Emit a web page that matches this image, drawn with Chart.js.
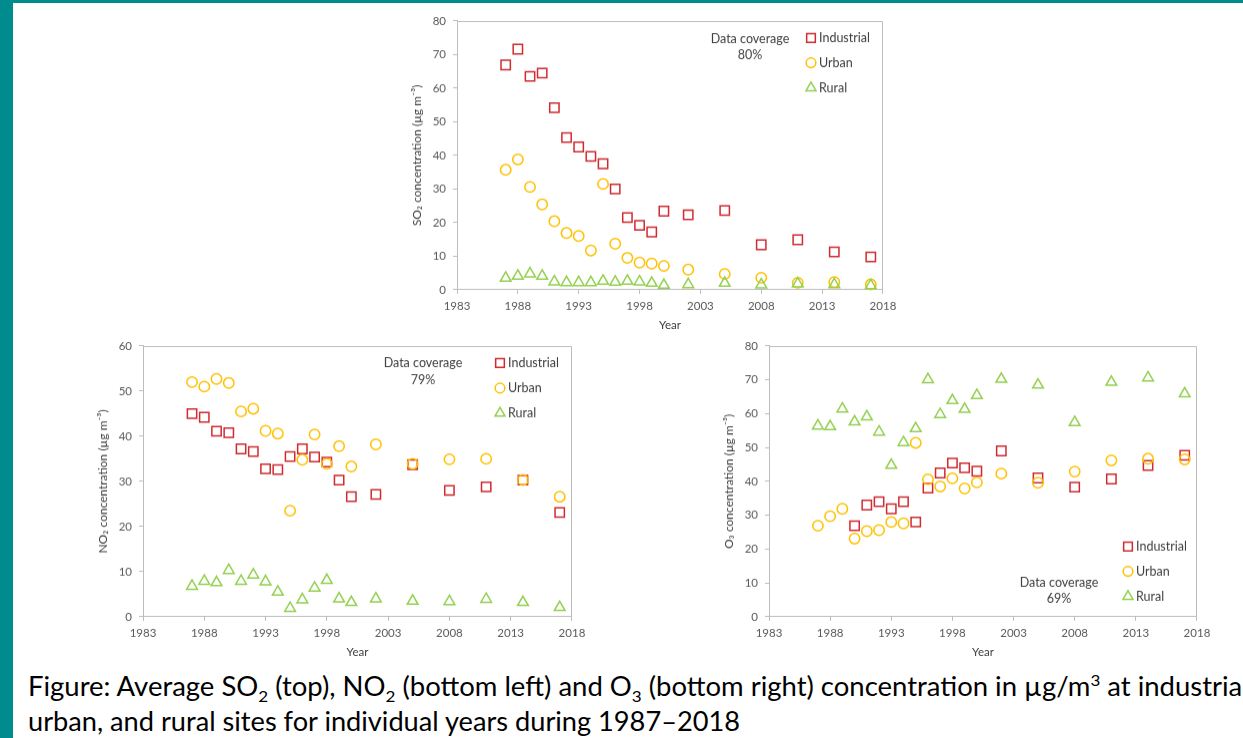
<!DOCTYPE html>
<html><head><meta charset="utf-8">
<script src="https://cdn.jsdelivr.net/npm/chart.js@4.4.1/dist/chart.umd.min.js"></script>
<style>
html,body{margin:0;padding:0;width:1243px;height:738px;overflow:hidden;background:#fff;}
#barLeft{position:absolute;left:0;top:0;width:13px;height:738px;background:#008B8E;}
#barTop{position:absolute;left:0;top:0;width:1243px;height:3px;background:#008B8E;}
canvas{position:absolute;}
.cap{position:absolute;left:28px;white-space:nowrap;font-family:Lato,sans-serif;color:#000;font-size:26px;line-height:30px;transform-origin:0 0;}
.cap sub,.cap sup{font-size:62%;line-height:0;}
</style></head>
<body>
<div id="barLeft"></div><div id="barTop"></div>
<canvas id="cSO2"></canvas>
<canvas id="cNO2"></canvas>
<canvas id="cO3"></canvas>
<div class="cap" id="cap1">Figure: Average SO<sub>2</sub> (top), NO<sub>2</sub> (bottom left) and O<sub>3</sub> (bottom right) concentration in µg/m<sup>3</sup> at industrial,</div>
<div class="cap" id="cap2">urban, and rural sites for individual years during 1987–2018</div>
<script>
// ---- data ----
const years = [1987,1988,1989,1990,1991,1992,1993,1994,1995,1996,1997,1998,1999,2000,2002,2005,2008,2011,2014,2017];
const xTicks = [1983,1988,1993,1998,2003,2008,2013,2018];
const seriesNames = ['Industrial','Urban','Rural'];

const so2Industrial = [66.9,71.6,63.5,64.5,54.2,45.3,42.5,39.7,37.5,30.0,21.5,19.2,17.2,23.4,22.3,23.6,13.4,14.9,11.3,9.8];
const so2Urban      = [35.7,38.8,30.6,25.4,20.4,16.9,16.0,11.7,31.5,13.7,9.5,8.1,7.8,7.1,6.0,4.7,3.6,2.1,2.3,1.6];
const so2Rural      = [3.5,4.1,4.8,4.1,2.4,2.2,2.2,2.2,2.6,2.3,2.6,2.4,2.0,1.4,1.6,2.0,1.5,1.8,1.6,1.3];

const no2Industrial = [45.0,44.2,41.1,40.8,37.2,36.6,32.8,32.6,35.5,37.2,35.4,34.3,30.3,26.6,27.1,33.7,28.0,28.8,30.3,23.1];
const no2Urban      = [52.0,51.0,52.7,51.8,45.5,46.1,41.2,40.6,23.5,34.8,40.4,33.9,37.8,33.3,38.2,33.9,34.9,35.0,30.3,26.6];
const no2Rural      = [6.8,7.9,7.6,10.3,7.9,9.3,7.8,5.5,1.9,3.8,6.4,8.1,4.0,3.2,4.0,3.5,3.4,3.9,3.2,2.1];

const o3Industrial  = [null,null,null,26.9,33.0,34.0,31.9,34.0,28.0,38.0,42.5,45.4,44.0,43.0,49.0,41.0,38.3,40.7,44.7,47.7];
const o3Urban       = [26.9,29.7,31.9,23.1,25.3,25.6,28.0,27.6,51.4,40.6,38.5,40.9,37.9,39.7,42.3,39.6,42.9,46.2,46.7,46.5];
const o3Rural       = [56.4,56.2,61.4,57.6,59.1,54.6,44.8,51.5,55.6,70.1,59.8,63.9,61.3,65.4,70.2,68.5,57.4,69.3,70.6,65.9];

const coverageSO2 = '80%', coverageNO2 = '79%', coverageO3 = '69%';

// ---- styles ----
const COLORS = ['#CF2A30','#FFC000','#92D050'];
const STYLES = ['rect','circle','triangle'];
const RADII = [6.6,5.2,6.2];
const FONT = 'Lato, sans-serif';
const TICK_COLOR = '#595959';
const AXIS_COLOR = '#BDBDBD';

function pts(arr){ return years.map((x,i)=>({x:x,y:arr[i]})).filter(p=>p.y!==null); }

const frameLegend = {
  id:'frameLegend',
  afterDraw(chart, args, o){
    const {ctx, chartArea:a} = chart;
    ctx.save();
    ctx.strokeStyle = AXIS_COLOR; ctx.lineWidth = 1;
    ctx.beginPath();
    ctx.moveTo(Math.round(a.left)+0.5, Math.round(a.top)+0.5);
    ctx.lineTo(Math.round(a.right)-0.5, Math.round(a.top)+0.5);
    ctx.lineTo(Math.round(a.right)-0.5, Math.round(a.bottom));
    ctx.stroke();
    ctx.font = '12.5px ' + FONT;
    ctx.textBaseline = 'middle';
    o.legendY.forEach((dy,i)=>{
      const x = a.left + o.legendX, y = a.top + dy;
      ctx.strokeStyle = COLORS[i]; ctx.fillStyle = 'rgba(0,0,0,0)'; ctx.lineWidth = 1.5;
      Chart.helpers.drawPoint(ctx, {pointStyle:STYLES[i], radius:RADII[i]*0.93, borderWidth:1.5, rotation:0}, x, y);
      ctx.fillStyle = '#404040';
      ctx.textAlign = 'left';
      ctx.fillText(seriesNames[i], x + 8, y);
    });
    ctx.fillStyle = '#404040';
    ctx.textAlign = 'center';
    ctx.fillText('Data coverage', a.left + o.covX, a.top + o.covY[0]);
    ctx.fillText(o.coverage, a.left + o.covX, a.top + o.covY[1]);
    ctx.restore();
  }
};

function makeChart(id, box, yMax, yTitle, data, leg){
  const yw = 47, padTop = 10, padRight = 16, xh = 42;
  const cv = document.getElementById(id);
  let W = yw + (box.R - box.L) + padRight, H = padTop + (box.B - box.T) + xh;
  cv.width = W; cv.height = H;
  cv.style.width = W + 'px'; cv.style.height = H + 'px';
  const datasets = data.map((arr,i)=>({
    label: seriesNames[i], data: pts(arr), order: i===0?2:(i===1?1:0),
    pointStyle: STYLES[i], pointRadius: RADII[i], pointBorderWidth: 1.5,
    borderColor: COLORS[i], backgroundColor: 'rgba(0,0,0,0)', showLine:false, clip:false
  }));
  const chart = new Chart(cv, {
    type:'scatter',
    data:{datasets},
    plugins:[frameLegend],
    options:{
      responsive:false, maintainAspectRatio:false, animation:false, events:[],
      layout:{padding:{top:padTop,right:padRight,left:0,bottom:0}},
      plugins:{legend:{display:false}, tooltip:{enabled:false}, frameLegend:leg},
      scales:{
        x:{type:'linear', min:xTicks[0], max:xTicks[xTicks.length-1],
          afterFit(s){ s.height = xh; },
          afterBuildTicks(s){ s.ticks = xTicks.map(v=>({value:v})); },
          ticks:{color:TICK_COLOR, font:{family:FONT,size:11.5}, padding:5, maxRotation:0, autoSkip:false, callback:v=>String(v)},
          grid:{drawOnChartArea:false, drawTicks:true, tickLength:4, color:AXIS_COLOR},
          border:{color:AXIS_COLOR},
          title:{display:true, text:'Year', color:'#404040', font:{family:FONT,size:11.5}, padding:{top:0,bottom:0}}
        },
        y:{type:'linear', min:0, max:yMax,
          afterFit(s){ s.width = yw; },
          ticks:{stepSize:10, color:TICK_COLOR, font:{family:FONT,size:11.5}, padding:7, callback:v=>String(v)},
          grid:{drawOnChartArea:false, drawTicks:true, tickLength:4, color:AXIS_COLOR},
          border:{color:AXIS_COLOR},
          title:{display:true, text:yTitle, color:'#404040', font:{family:FONT,size:12}, padding:{top:0,bottom:0}}
        }
      }
    }
  });
  // fit the plot area to the target box (layout only)
  for (let k=0;k<4;k++){
    const a = chart.chartArea;
    const dw = (box.R - box.L) - (a.right - a.left);
    const dh = (box.B - box.T) - (a.bottom - a.top);
    if (Math.abs(dw) < 0.5 && Math.abs(dh) < 0.5) break;
    W += dw; H += dh;
    chart.resize(W, H);
  }
  const a = chart.chartArea;
  cv.style.left = (box.L - a.left) + 'px';
  cv.style.top = (box.T - a.top) + 'px';
  return chart;
}

function build(){
  makeChart('cSO2', {L:457,R:883,T:21,B:289}, 80, 'SO₂ concentration (µg m⁻³)',
    [so2Industrial, so2Urban, so2Rural],
    {legendX:354, legendY:[17,41.7,66.7], covX:293, covY:[18,34], coverage:coverageSO2});
  makeChart('cNO2', {L:143,R:572,T:346,B:616}, 60, 'NO₂ concentration (µg m⁻³)',
    [no2Industrial, no2Urban, no2Rural],
    {legendX:357, legendY:[17,42,67], covX:280, covY:[17,34], coverage:coverageNO2});
  makeChart('cO3', {L:769,R:1197,T:346,B:616}, 80, 'O₃ concentration (µg m⁻³)',
    [o3Industrial, o3Urban, o3Rural],
    {legendX:359, legendY:[200,224.7,249.7], covX:290, covY:[235.7,252.3], coverage:coverageO3});

  const c1 = document.getElementById('cap1'), c2 = document.getElementById('cap2');
  const fs = 26, lh = 30;
  const base = (lh - 1.2*fs)/2 + 0.987*fs;
  c1.style.top = (696 - base) + 'px';
  c2.style.top = (731 - base) + 'px';
  const w1 = c1.getBoundingClientRect().width;
  const w2 = c2.getBoundingClientRect().width;
  c1.style.transform = 'scaleX(' + (1227 / w1) + ')';
  c2.style.transform = 'scaleX(' + (712 / w2) + ')';
}
if (document.fonts && document.fonts.ready) { document.fonts.ready.then(build); } else { build(); }
</script>
</body></html>
